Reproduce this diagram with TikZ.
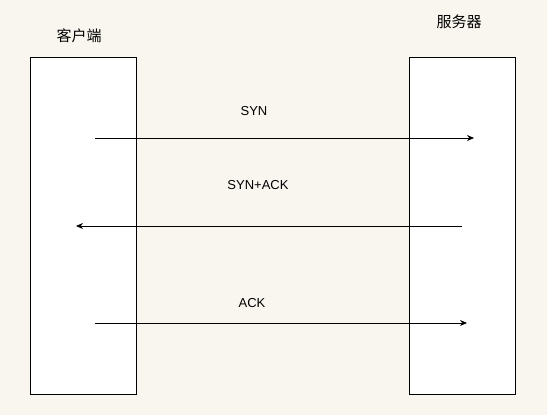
\documentclass[tikz,border=0pt]{standalone}
\usepackage{fontspec}
\setmainfont{Liberation Sans}
\newfontfamily\cjk{Noto Sans CJK SC}
\usepackage{tikz}
\usetikzlibrary{arrows.meta,positioning}
\definecolor{bgcream}{HTML}{F9F6EF}

\begin{document}
\begin{tikzpicture}[x=1pt, y=-1pt, >={Stealth[length=7pt,width=6pt]}, font=\fontsize{13}{15}\selectfont,
    host/.style={rectangle, draw, line width=1pt, fill=white, minimum width=106pt, minimum height=337pt, inner sep=0pt},
    hostlbl/.style={font=\cjk\fontsize{15}{17}\selectfont},
    msg/.style={->, line width=0.8pt}]
    \fill[bgcream] (0,0) rectangle (547,415);
    \useasboundingbox (0,0) rectangle (547,415);

    \node[host] (client) at (83, 225.5) {};
    \node[host] (server) at (462, 225.5) {};
    \node[hostlbl] (clientlbl) at (79, 36) {客户端};
    \node[hostlbl] (serverlbl) at (459, 22) {服务器};

    % Handshake
    \coordinate (syn1) at (95, 138);   \coordinate (syn2) at (474, 138);
    \coordinate (sa1) at (462, 226);   \coordinate (sa2) at (76, 226);
    \coordinate (ack1) at (95, 323);   \coordinate (ack2) at (467, 323);
    \draw[msg] (syn1) -- (syn2);
    \draw[msg] (sa1) -- (sa2);
    \draw[msg] (ack1) -- (ack2);

    \node (synlbl) at (254, 111) {SYN};
    \node (salbl) at (258, 185) {SYN+ACK};
    \node (acklbl) at (252, 303) {ACK};
\end{tikzpicture}
\end{document}
